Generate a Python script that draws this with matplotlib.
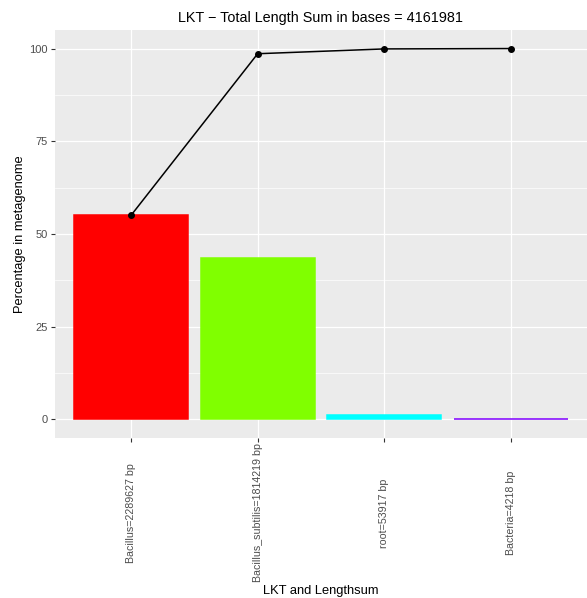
import matplotlib
matplotlib.use("Agg")
import matplotlib.pyplot as plt
import numpy as np

plt.rcParams["font.family"] = ["Liberation Sans", "DejaVu Sans"]

# Taxa and their summed lengths (bp)
taxa = ["Bacillus", "Bacillus_subtilis", "root", "Bacteria"]
lengths = [2289627, 1814219, 53917, 4218]
total_length = 4161981
bar_colors = ["#FF0000", "#80FF00", "#00FFFF", "#8000FF"]

percent = [100.0 * v / total_length for v in lengths]
cumulative = list(np.cumsum(percent))
tick_labels = [f"{t}={v} bp" for t, v in zip(taxa, lengths)]

W, H = 587, 598
fig = plt.figure(figsize=(W / 100, H / 100), dpi=100)
ax = fig.add_axes([55 / W, (H - 438) / H, (W - 55) / W, (438 - 30) / H])
ax.set_facecolor("#EBEBEB")
for s in ax.spines.values():
    s.set_visible(False)

x = np.arange(1, len(taxa) + 1)
ax.set_xlim(0.4, len(taxa) + 0.6)
ax.set_ylim(-5, 105)

# grid
for yv in [12.5, 37.5, 62.5, 87.5]:
    ax.axhline(yv, color="white", lw=0.5, zorder=0)
for yv in [0, 25, 50, 75, 100]:
    ax.axhline(yv, color="white", lw=0.9, zorder=0)
for xv in x:
    ax.axvline(xv, color="white", lw=0.9, zorder=0)

ax.bar(x, percent, width=0.9, color=bar_colors, edgecolor=bar_colors,
       linewidth=1.1, zorder=2)
ax.plot(x, cumulative, color="black", lw=1.1, zorder=3)
ax.scatter(x, cumulative, color="black", s=16, zorder=4)

ax.set_yticks([0, 25, 50, 75, 100])
ax.set_yticklabels(["0", "25", "50", "75", "100"])
ax.set_xticks(x)
ax.set_xticklabels(tick_labels, rotation=90, va="center", ha="center")
ax.tick_params(axis="both", colors="#333333", labelcolor="#4D4D4D",
               length=3, width=0.8)
ax.tick_params(axis="y", pad=2, labelsize=8)
ax.tick_params(axis="x", pad=51, labelsize=7.7)

ax.set_title(f"LKT \u2212 Total Length Sum in bases = {total_length}",
             fontsize=10.4, color="black", pad=6)
ax.set_xlabel("LKT and Lengthsum", fontsize=9.3, va="center")
ax.xaxis.set_label_coords((321 - 55) / (W - 55), -(591 - 438) / (438 - 30))
ax.set_ylabel("Percentage in metagenome", fontsize=9.3, va="center")
ax.yaxis.set_label_coords(-(55 - 20) / (W - 55), (438 - 234) / (438 - 30))

fig.savefig("out.png", dpi=100)
